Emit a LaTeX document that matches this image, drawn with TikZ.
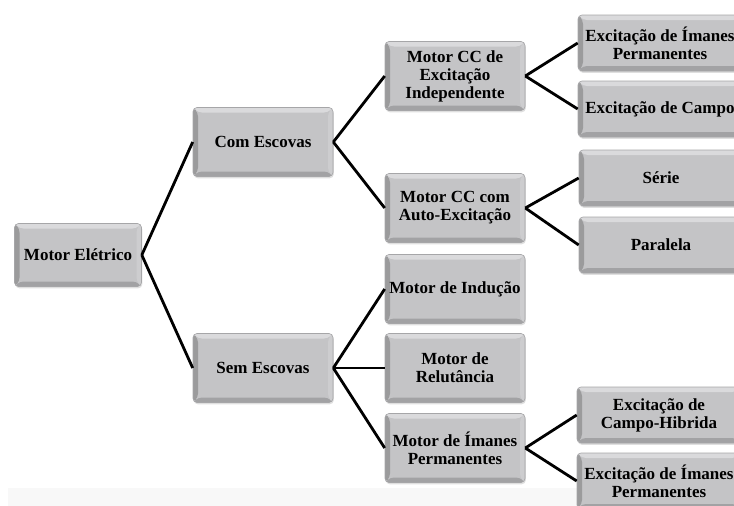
\documentclass[tikz,border=0pt]{standalone}
\usepackage{fontspec}
\setmainfont{Liberation Serif}
\usepackage{xcolor}
\usetikzlibrary{positioning, shadows}

\definecolor{boxfill}{HTML}{C4C4C6}
\definecolor{boxline}{HTML}{A6A6A8}
\definecolor{bevlight}{HTML}{DADADC}
\definecolor{bevdark}{HTML}{A2A2A4}
\definecolor{stripgray}{HTML}{F8F8F8}

\begin{document}
\begin{tikzpicture}[x=1pt, y=-1pt,
  box/.style={rectangle, rounded corners=4pt, draw=boxline, line width=0.6pt, fill=boxfill,
    minimum width=140pt, minimum height=69pt, inner sep=2pt, align=center,
    font=\fontsize{17}{18}\selectfont\bfseries,
    drop shadow={shadow xshift=0.8pt, shadow yshift=-1.8pt, opacity=0.25, fill=gray},
    path picture={
      \fill[bevlight] (path picture bounding box.north west) -- (path picture bounding box.north east)
        -- ([xshift=-5pt,yshift=-5pt]path picture bounding box.north east)
        -- ([xshift=5pt,yshift=-5pt]path picture bounding box.north west) -- cycle;
      \fill[bevdark] (path picture bounding box.south west) -- (path picture bounding box.south east)
        -- ([xshift=-5pt,yshift=5pt]path picture bounding box.south east)
        -- ([xshift=5pt,yshift=5pt]path picture bounding box.south west) -- cycle;
      \fill[gray!60!boxfill] (path picture bounding box.north west) -- ([xshift=5pt,yshift=-5pt]path picture bounding box.north west)
        -- ([xshift=5pt,yshift=5pt]path picture bounding box.south west) -- (path picture bounding box.south west) -- cycle;
      \fill[boxfill!85!white] (path picture bounding box.north east) -- ([xshift=-5pt,yshift=-5pt]path picture bounding box.north east)
        -- ([xshift=-5pt,yshift=5pt]path picture bounding box.south east) -- (path picture bounding box.south east) -- cycle;
    }},
  leaf/.style={box, minimum width=164pt, minimum height=56pt},
  link/.style={line width=2.8pt, draw=black}
]
  \clip (0,0) rectangle (734,506);
  \fill[stripgray] (8,488) rectangle (734,506);

  % root
  \node[box, minimum width=127pt, minimum height=63pt] (root) at (78,255) {Motor Elétrico};

  % first level
  \node[box] (com) at (263,142) {Com Escovas};
  \node[box] (sem) at (263,368) {Sem Escovas};

  % second level
  \node[box] (indep) at (455,76) {Motor CC de\\Excitação\\Independente};
  \node[box] (auto) at (455,208) {Motor CC com\\Auto-Excitação};
  \node[box] (inducao) at (455,289) {Motor de Indução};
  \node[box] (relut) at (455,368) {Motor de\\Relutância};
  \node[box] (imanes) at (455,448) {Motor de Ímanes\\Permanentes};

  % third level
  \node[leaf] (indepiman) at (660,43) {Excitação de Ímanes\\Permanentes};
  \node[leaf] (indepcampo) at (660,109) {Excitação de Campo};
  \node[leaf] (serie) at (661,178) {Série};
  \node[leaf] (paralela) at (661,245) {Paralela};
  \node[leaf] (hibrida) at (659,415) {Excitação de\\Campo-Hibrida};
  \node[leaf] (imaniman) at (659,481) {Excitação de Ímanes\\Permanentes};

  % connectors
  \draw[link] (root.east) -- (com.west);
  \draw[link] (root.east) -- (sem.west);
  \draw[link] (com.east) -- (indep.west);
  \draw[link] (com.east) -- (auto.west);
  \draw[link] (sem.east) -- (inducao.west);
  \draw[link] (sem.east) -- (relut.west);
  \draw[link] (sem.east) -- (imanes.west);
  \draw[link] (indep.east) -- (indepiman.west);
  \draw[link] (indep.east) -- (indepcampo.west);
  \draw[link] (auto.east) -- (serie.west);
  \draw[link] (auto.east) -- (paralela.west);
  \draw[link] (imanes.east) -- (hibrida.west);
  \draw[link] (imanes.east) -- (imaniman.west);
\end{tikzpicture}
\end{document}
